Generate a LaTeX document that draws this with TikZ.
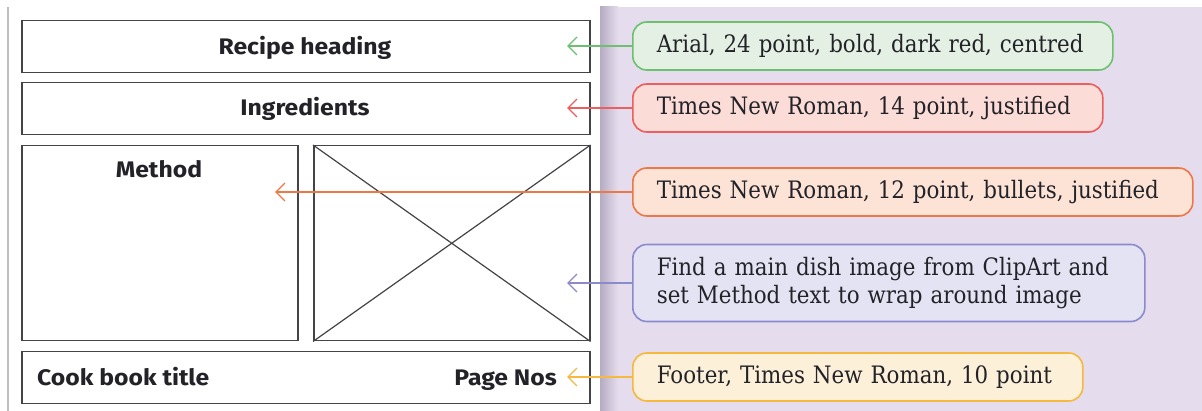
\documentclass[tikz,border=0pt]{standalone}
\usepackage{fontspec}
\setmainfont{DejaVu Serif}
\newfontfamily\boxfont[FakeStretch=1.1]{Fira Sans}
\newfontfamily\callfont[FakeStretch=0.89]{DejaVu Serif}
\usetikzlibrary{arrows.meta}
\definecolor{lav}{HTML}{E5DDED}
\definecolor{lavdark}{HTML}{B5ABC2}
\definecolor{ink}{HTML}{222228}
\definecolor{gB}{HTML}{6CC070}\definecolor{gF}{HTML}{E4F0E4}
\definecolor{rB}{HTML}{EE5E5E}\definecolor{rF}{HTML}{FBDCD6}
\definecolor{oB}{HTML}{EE7748}\definecolor{oF}{HTML}{FCE3D6}
\definecolor{bB}{HTML}{8A8ACC}\definecolor{bF}{HTML}{E3E3F3}
\definecolor{yB}{HTML}{F5B840}\definecolor{yF}{HTML}{FDF0D8}
\tikzset{
  pagebox/.style={draw=ink!85, line width=1.5pt, fill=white, anchor=north west, inner sep=0pt},
  boxlabel/.style={font=\boxfont\bfseries\fontsize{22.5}{26}\selectfont, text=ink, inner sep=0pt},
  callout/.style={draw=#1B, fill=#1F, line width=1.6pt, rounded corners=14pt, anchor=west,
     font=\callfont\fontsize{24}{28}\selectfont, text=ink, align=left, inner xsep=24pt, inner ysep=0pt, minimum height=48pt},
  pointer/.style={draw=#1B, line width=1.4pt, -{Straight Barb[length=9pt,width=18pt,line width=1.4pt]}},
}
\begin{document}
\begin{tikzpicture}[x=1pt,y=-1pt]
\useasboundingbox (0,0) rectangle (1202,411);
% backgrounds
\fill[white] (0,0) rectangle (1202,411);
\fill[lav] (600,7) rectangle (1202,411);
\shade[left color=lavdark, right color=lav] (600,7) rectangle (618,411);
\draw[black!25, line width=1.5pt] (8,7) -- (8,411);
% page boxes
\node[pagebox, minimum width=568pt, minimum height=52pt] (head) at (21,20) {};
\node[boxlabel, anchor=base] (headtxt) at (305,55) {Recipe heading};
\node[pagebox, minimum width=568pt, minimum height=52pt] (ingr) at (21,82) {};
\node[boxlabel, anchor=base] (ingrtxt) at (305,116) {Ingredients};
\node[pagebox, minimum width=276pt, minimum height=195pt] (meth) at (21,145) {};
\node[boxlabel, anchor=base] (methtxt) at (159,178) {Method};
\node[pagebox, minimum width=276pt, minimum height=195pt] (img) at (313,145) {};
\draw[ink!85, line width=1.2pt] (img.north west) -- (img.south east) (img.south west) -- (img.north east);
\node[pagebox, minimum width=568pt, minimum height=52pt] (foot) at (21,351) {};
\node[boxlabel, anchor=base west] (foottxt) at (37,385) {Cook book title};
\node[boxlabel, anchor=base east] (pagetxt) at (557,385) {Page Nos};
% targets
\coordinate (tg) at (567,46);
\coordinate (tr) at (567,108);
\coordinate (to) at (275,192);
\coordinate (tb) at (567,283);
\coordinate (ty) at (567,377);
% callouts
\node[callout=g, minimum width=480pt, text width=432pt] (cg) at (632,46) {Arial, 24 point, bold, dark red, centred};
\node[callout=r, minimum width=470pt, text width=422pt] (cr) at (632,108) {Times New Roman, 14 point, justified};
\node[callout=o, minimum width=560pt, text width=512pt] (co) at (632,192) {Times New Roman, 12 point, bullets, justified};
\node[callout=b, minimum width=512pt, text width=464pt, minimum height=77pt] (cb) at (632,283) {Find a main dish image from ClipArt and\\set Method text to wrap around image};
\node[callout=y, minimum width=450pt, text width=402pt] (cy) at (632,377) {Footer, Times New Roman, 10 point};
% pointers
\draw[pointer=g] (cg.west) -- (tg);
\draw[pointer=r] (cr.west) -- (tr);
\draw[pointer=o] (co.west) -- (to);
\draw[pointer=b] (cb.west) -- (tb);
\draw[pointer=y] (cy.west) -- (ty);
\end{tikzpicture}
\end{document}
